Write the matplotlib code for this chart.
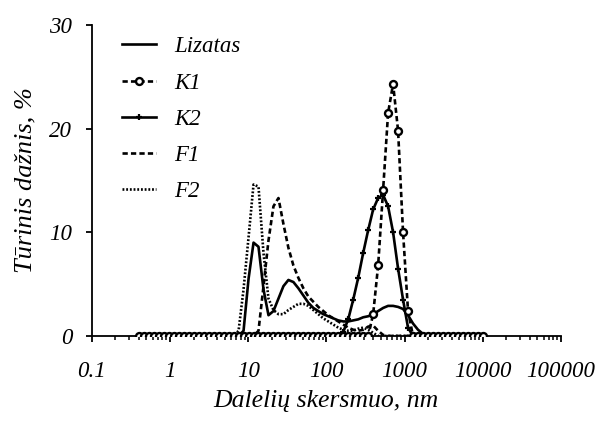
import matplotlib
matplotlib.use("Agg")
import matplotlib.pyplot as plt
from matplotlib.ticker import FixedLocator, FixedFormatter, LogLocator, NullFormatter

plt.rcParams["font.family"] = ["Liberation Serif", "DejaVu Serif"]
plt.rcParams["font.style"] = "italic"

# particle size bins, nm
sizes = [0.4, 0.4632, 0.5365, 0.6213, 0.7195, 0.8332, 0.9649, 1.117, 1.294, 1.499,
         1.736, 2.010, 2.328, 2.696, 3.122, 3.615, 4.187, 4.849, 5.615, 6.503,
         7.531, 8.721, 10.10, 11.70, 13.54, 15.69, 18.17, 21.04, 24.36, 28.21,
         32.67, 37.84, 43.82, 50.75, 58.77, 68.06, 78.82, 91.28, 105.7, 122.4,
         141.8, 164.2, 190.1, 220.2, 255.0, 295.3, 342.0, 396.1, 458.7, 531.2,
         615.1, 712.4, 825.0, 955.4, 1106, 1281, 1484, 1718, 1990, 2305,
         2669, 3091, 3580, 4145, 4801, 5560, 6439, 7456, 8635, 10000]

lizatas = [0, 0, 0, 0, 0, 0, 0, 0, 0, 0,
           0, 0, 0, 0, 0, 0, 0, 0, 0, 0,
           0, 0.5, 5.5, 9.0, 8.6, 4.5, 2.0, 2.4, 3.6, 4.8,
           5.4, 5.2, 4.6, 3.9, 3.2, 2.7, 2.4, 2.1, 1.9, 1.7,
           1.5, 1.4, 1.4, 1.5, 1.6, 1.8, 1.9, 2.1, 2.4, 2.7,
           2.9, 2.9, 2.8, 2.6, 2.0, 1.2, 0.6, 0.2, 0, 0,
           0, 0, 0, 0, 0, 0, 0, 0, 0, 0]

k1 = [0, 0, 0, 0, 0, 0, 0, 0, 0, 0,
      0, 0, 0, 0, 0, 0, 0, 0, 0, 0,
      0, 0, 0, 0, 0, 0, 0, 0, 0, 0,
      0, 0, 0, 0, 0, 0, 0, 0, 0, 0,
      0, 0, 0, 0, 0, 0, 0, 2.1, 6.8, 14.1,
      21.5, 24.3, 19.8, 10.0, 2.4, 0, 0, 0, 0, 0,
      0, 0, 0, 0, 0, 0, 0, 0, 0, 0]

k2 = [0, 0, 0, 0, 0, 0, 0, 0, 0, 0,
      0, 0, 0, 0, 0, 0, 0, 0, 0, 0,
      0, 0, 0, 0, 0, 0, 0, 0, 0, 0,
      0, 0, 0, 0, 0, 0, 0, 0, 0, 0,
      0, 0.4, 1.6, 3.5, 5.6, 8.0, 10.2, 12.2, 13.3, 13.6,
      12.5, 10.0, 6.5, 3.5, 0.8, 0, 0, 0, 0, 0,
      0, 0, 0, 0, 0, 0, 0, 0, 0, 0]

f1 = [0, 0, 0, 0, 0, 0, 0, 0, 0, 0,
      0, 0, 0, 0, 0, 0, 0, 0, 0, 0,
      0, 0, 0, 0, 0.5, 4.8, 9.2, 12.5, 13.3, 10.8,
      8.5, 6.8, 5.6, 4.6, 3.8, 3.3, 2.8, 2.4, 2.0, 1.7,
      1.4, 1.1, 0.8, 0.6, 0.5, 0.6, 0.9, 1.0, 0.5, 0.1,
      0, 0, 0, 0, 0, 0, 0, 0, 0, 0,
      0, 0, 0, 0, 0, 0, 0, 0, 0, 0]

f2 = [0, 0, 0, 0, 0, 0, 0, 0, 0, 0,
      0, 0, 0, 0, 0, 0, 0, 0, 0, 0,
      0.5, 4.5, 9.5, 14.6, 14.4, 8.0, 3.6, 2.5, 2.1, 2.1,
      2.5, 2.8, 3.1, 3.1, 2.9, 2.5, 2.1, 1.7, 1.4, 1.1,
      0.8, 0.6, 0.5, 0.5, 0.7, 0.8, 0.6, 0.3, 0, 0,
      0, 0, 0, 0, 0, 0, 0, 0, 0, 0,
      0, 0, 0, 0, 0, 0, 0, 0, 0, 0]

xticks = [0.1, 1, 10, 100, 1000, 10000, 100000]
xtick_labels = ["0.1", "1", "10", "100", "1000", "10000", "100000"]
yticks = [0, 10, 20, 30]

fig = plt.figure(figsize=(6, 4.21), dpi=100)
ax = fig.add_axes([0.153, 0.202, 0.782, 0.739])

ax.plot(sizes, lizatas, color="black", lw=1.9, label="Lizatas", zorder=3)
ax.plot(sizes, k1, color="black", lw=1.9, dashes=(2, 1.2), marker="o",
        markersize=5, markerfacecolor="white", markeredgewidth=1.7,
        label="K1", zorder=4)
ax.plot(sizes, k2, color="black", lw=1.9, marker="+", markersize=5,
        markeredgewidth=1.6, label="K2", zorder=3)
ax.plot(sizes, f1, color="black", lw=1.9, dashes=(2, 1.2), label="F1", zorder=3)
ax.plot(sizes, f2, color="black", lw=1.9, dashes=(0.7, 0.7), label="F2", zorder=3)

ax.set_xscale("log")
ax.set_xlim(0.1, 100000)
ax.set_ylim(0, 30)
ax.xaxis.set_major_locator(FixedLocator(xticks))
ax.xaxis.set_major_formatter(FixedFormatter(xtick_labels))
ax.xaxis.set_minor_locator(LogLocator(base=10, subs=range(2, 10), numticks=20))
ax.xaxis.set_minor_formatter(NullFormatter())
ax.set_yticks(yticks)

for s in ["top", "right"]:
    ax.spines[s].set_visible(False)
for s in ["left", "bottom"]:
    ax.spines[s].set_linewidth(1.3)
ax.tick_params(axis="both", which="major", direction="out", length=4, width=1.3,
               labelsize=16.5)
ax.tick_params(axis="x", which="major", pad=14)
ax.tick_params(axis="y", which="major", pad=10)
ax.tick_params(axis="x", which="minor", direction="out", length=3, width=1.1)

ax.set_xlabel("Dalelių skersmuo, nm", fontsize=18.5, labelpad=6)
ax.set_ylabel("Tūrinis dažnis, %", fontsize=19, labelpad=9)

ax.legend(loc="upper left", bbox_to_anchor=(0.02, 1.029), frameon=False, fontsize=16.5,
          handlelength=1.5, handletextpad=0.8, labelspacing=0.66)

fig.savefig("out.png", dpi=100)
